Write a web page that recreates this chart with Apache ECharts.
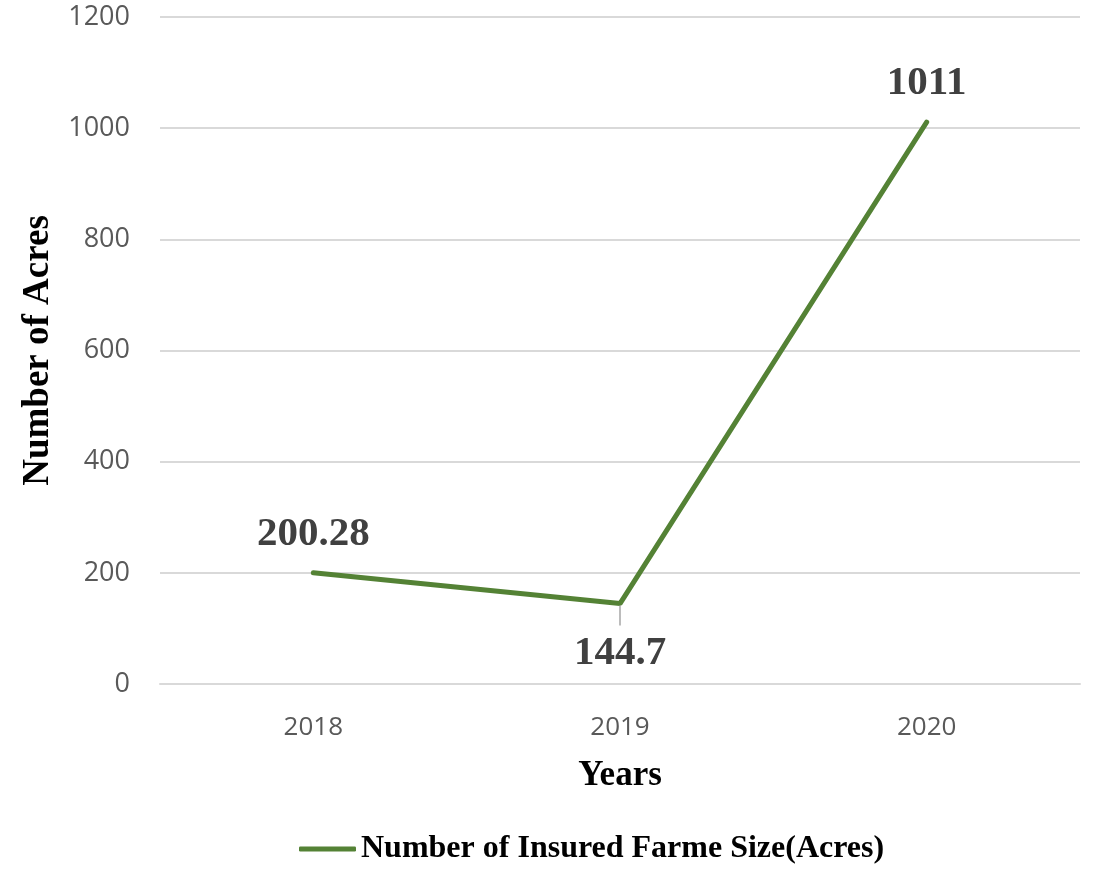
<!DOCTYPE html>
<html>
<head>
<meta charset="utf-8">
<script src="https://cdn.jsdelivr.net/npm/echarts@6/dist/echarts.min.js"></script>
<style>
  html, body { margin: 0; padding: 0; background: #fff; }
  #chart { width: 1094px; height: 870px; }
</style>
</head>
<body>
<div id="chart"></div>
<script>
// Insured farm size per year
const years = ['2018', '2019', '2020'];
const acres = [200.28, 144.7, 1011];
const labelPositions = ['top', 'bottom', 'top'];
const yTicks = { min: 0, max: 1200, interval: 200 };

const seriesName = 'Number of Insured Farme Size(Acres)';
const green = '#548235';
const serif = '"Liberation Serif", "Times New Roman", serif';
const sans = '"Open Sans", "Noto Sans", sans-serif';

const valueText = {
  fontFamily: serif,
  fontWeight: 'bold',
  fontSize: 41,
  color: '#404040'
};

const chart = echarts.init(document.getElementById('chart'));

chart.setOption({
  animation: false,
  grid: { left: 160, right: 14, top: 17, bottom: 186 },
  xAxis: {
    type: 'category',
    data: years,
    boundaryGap: true,
    axisLine: { lineStyle: { color: '#d9d9d9', width: 2 } },
    axisTick: { show: false },
    axisLabel: { color: '#595959', fontFamily: sans, fontSize: 26, margin: 31 },
    name: 'Years',
    nameLocation: 'middle',
    nameGap: 74,
    nameTextStyle: { fontFamily: serif, fontWeight: 'bold', fontSize: 35, color: '#000' }
  },
  yAxis: {
    type: 'value',
    min: yTicks.min,
    max: yTicks.max,
    interval: yTicks.interval,
    axisLine: { show: false },
    axisTick: { show: false },
    splitLine: { lineStyle: { color: '#d9d9d9', width: 2 } },
    axisLabel: {
      color: '#595959', fontFamily: sans, fontSize: 27, margin: 30,
      formatter: (v) => String(v)
    },
    name: 'Number of Acres',
    nameLocation: 'middle',
    nameGap: 99,
    nameRotate: 90,
    nameTextStyle: { fontFamily: serif, fontWeight: 'bold', fontSize: 37, color: '#000' }
  },
  legend: {
    bottom: 0,
    left: 294,
    icon: 'roundRect',
    itemWidth: 57,
    itemHeight: 5,
    textStyle: { fontFamily: serif, fontWeight: 'bold', fontSize: 32, color: '#000' },
    data: [seriesName]
  },
  series: [{
    name: seriesName,
    type: 'line',
    symbol: 'circle',
    symbolSize: 0,
    showSymbol: true,
    lineStyle: { color: green, width: 5, cap: 'round' },
    itemStyle: { color: green },
    data: acres.map((v, i) => {
      const below = labelPositions[i] === 'bottom';
      return {
        value: v,
        label: below
          ? {
              position: 'bottom',
              distance: 2,
              // a short grey leader sits between the point and the value
              formatter: '{lead|}\n{val|{c}}',
              rich: {
                lead: { width: 1.5, height: 20, lineHeight: 20, backgroundColor: '#a6a6a6' },
                val: Object.assign({ lineHeight: 56 }, valueText)
              }
            }
          : { position: 'top' }
      };
    }),
    label: Object.assign({ show: true, distance: 18 }, valueText)
  }]
});
</script>
</body>
</html>
